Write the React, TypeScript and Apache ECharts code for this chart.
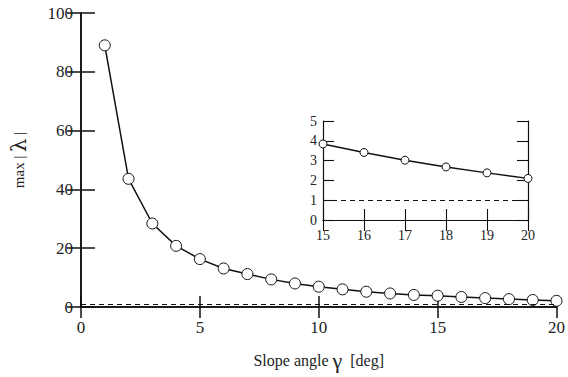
import React, { useEffect, useRef } from "react";
import * as echarts from "echarts";

const slopeAngles = [1, 2, 3, 4, 5, 6, 7, 8, 9, 10, 11, 12, 13, 14, 15, 16, 17, 18, 19, 20];
const maxLambda = [89, 43.6, 28.4, 20.8, 16.3, 13.1, 11.2, 9.4, 8.0, 6.9, 6.0, 5.2, 4.6, 4.1, 3.84, 3.41, 3.02, 2.68, 2.38, 2.1];
const insetAngles = [15, 16, 17, 18, 19, 20];
const insetLambda = [3.84, 3.41, 3.02, 2.68, 2.38, 2.1];
const threshold = 1;

const FONT = "Liberation Serif";
const GREEK = "DejaVu Serif";
const TXT = "#222";

export default function App() {
  const ref = useRef<HTMLDivElement>(null);
  useEffect(() => {
    if (!ref.current) return;
    const chart = echarts.init(ref.current, undefined, { renderer: "svg" });
    const frameLine = { show: true, lineStyle: { color: "#111", width: 1.6 } };
    const insetLine = { show: true, lineStyle: { color: "#111", width: 1.2 } };
    const mainTick = (len: number) => ({ show: true, inside: true, length: len, lineStyle: { color: "#111", width: 1.5 } });
    const insetTick = { show: true, inside: true, length: 11, lineStyle: { color: "#111", width: 1.1 } };
    chart.setOption({
      animation: false,
      backgroundColor: "#fff",
      textStyle: { fontFamily: FONT },
      grid: [
        { left: 80, top: 13, width: 478, height: 294, show: false },
        { left: 323, top: 121, width: 205, height: 99, show: true, backgroundColor: "#fff", borderWidth: 0 },
      ],
      xAxis: [
        {
          gridIndex: 0, type: "value", min: 0, max: 20, interval: 5, position: "bottom",
          axisLine: frameLine, axisTick: mainTick(11), splitLine: { show: false },
          axisLabel: { color: TXT, fontSize: 17, fontFamily: FONT, margin: 12 },
          name: "{a|Slope angle }{g|γ}{a|  [deg]}", nameLocation: "middle", nameGap: 42,
          nameTextStyle: {
            fontFamily: FONT,
            rich: {
              a: { fontSize: 16, fontFamily: FONT, color: TXT },
              g: { fontSize: 22, fontFamily: FONT, color: TXT },
            },
          },
        },
        {
          gridIndex: 0, type: "value", min: 0, max: 20, interval: 5, position: "top",
          axisLine: frameLine, axisTick: mainTick(11), axisLabel: { show: false }, splitLine: { show: false },
        },
        {
          gridIndex: 1, type: "value", min: 15, max: 20, interval: 1, position: "bottom",
          axisLine: insetLine, axisTick: insetTick, splitLine: { show: false },
          axisLabel: { color: TXT, fontSize: 14, fontFamily: FONT, margin: 8 },
        },
        {
          gridIndex: 1, type: "value", min: 15, max: 20, interval: 1, position: "top",
          axisLine: insetLine, axisTick: insetTick, axisLabel: { show: false }, splitLine: { show: false },
        },
      ],
      yAxis: [
        {
          gridIndex: 0, type: "value", min: 0, max: 100, interval: 20, position: "left",
          axisLine: frameLine, axisTick: mainTick(14), splitLine: { show: false },
          axisLabel: { color: TXT, fontSize: 17, fontFamily: FONT, margin: 8 },
          name: "{a|max | }{l|λ}{a| |}", nameLocation: "middle", nameGap: 52, nameRotate: 90,
          nameTextStyle: {
            fontFamily: FONT,
            rich: {
              a: { fontSize: 15, fontFamily: FONT, color: TXT },
              l: { fontSize: 21, fontFamily: GREEK, color: TXT },
            },
          },
        },
        {
          gridIndex: 0, type: "value", min: 0, max: 100, interval: 20, position: "right",
          axisLine: frameLine, axisTick: mainTick(14), axisLabel: { show: false }, splitLine: { show: false },
        },
        {
          gridIndex: 1, type: "value", min: 0, max: 5, interval: 1, position: "left",
          axisLine: insetLine, axisTick: insetTick, splitLine: { show: false },
          axisLabel: { color: TXT, fontSize: 14, fontFamily: FONT, margin: 6 },
        },
        {
          gridIndex: 1, type: "value", min: 0, max: 5, interval: 1, position: "right",
          axisLine: insetLine, axisTick: insetTick, axisLabel: { show: false }, splitLine: { show: false },
        },
      ],
      series: [
        {
          type: "line", xAxisIndex: 0, yAxisIndex: 0,
          data: slopeAngles.map((x, i) => [x, maxLambda[i]]),
          symbol: "circle", symbolSize: 11,
          lineStyle: { color: "#111", width: 1.5 },
          itemStyle: { color: "#fff", borderColor: "#111", borderWidth: 1 },
          markLine: {
            silent: true, symbol: "none", label: { show: false },
            lineStyle: { color: "#111", type: [5, 4], width: 1 },
            data: [{ yAxis: threshold }],
          },
          z: 3,
        },
        {
          type: "line", xAxisIndex: 2, yAxisIndex: 2,
          data: insetAngles.map((x, i) => [x, insetLambda[i]]),
          symbol: "circle", symbolSize: 8,
          lineStyle: { color: "#111", width: 1.4 },
          itemStyle: { color: "#fff", borderColor: "#111", borderWidth: 1 },
          markLine: {
            silent: true, symbol: "none", label: { show: false },
            lineStyle: { color: "#111", type: [5, 4], width: 1 },
            data: [{ yAxis: threshold }],
          },
          z: 3,
        },
      ],
    });
    return () => chart.dispose();
  }, []);
  return <div ref={ref} style={{ width: 568, height: 377, position: "absolute", left: 0, top: 0 }} />;
}
